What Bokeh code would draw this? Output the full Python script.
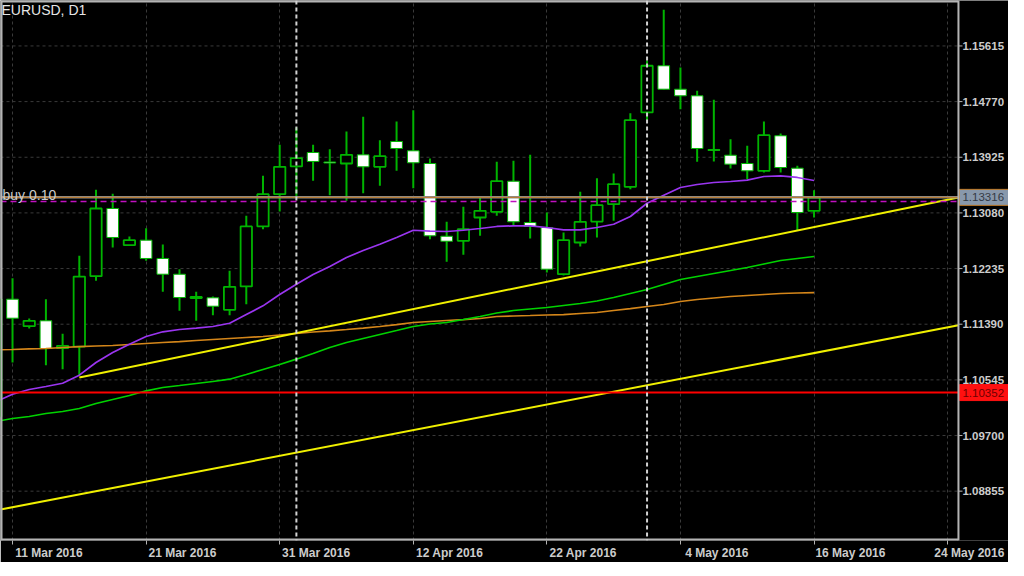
import numpy as np
from bokeh.plotting import figure
from bokeh.models import (Range1d, FixedTicker, LinearAxis, Grid, Label, Span, ColumnDataSource)
from bokeh.core.properties import value
from bokeh.embed import file_html
from bokeh.resources import INLINE

# ---------------- data ----------------
symbol_title = "EURUSD, D1"
bar_index = list(range(-1, 49))
opens = [1.09989, 1.11770, 1.11360, 1.11442, 1.11026, 1.11051, 1.12119, 1.13147, 1.12590, 1.12666,
         1.12388, 1.12149, 1.11788, 1.11791, 1.11609, 1.11963, 1.12874, 1.13364, 1.13785, 1.13997,
         1.13853, 1.13830, 1.13962, 1.13780, 1.14164, 1.14023, 1.13830, 1.12726, 1.12656, 1.13010,
         1.13097, 1.13561, 1.12934, 1.12858, 1.12149, 1.12631, 1.12949, 1.13212, 1.13476, 1.14605,
         1.15314, 1.14958, 1.14858, 1.14043, 1.13956, 1.13830, 1.13719, 1.14251, 1.13759, 1.13112]
highs = [1.11871, 1.12089, 1.11477, 1.11770, 1.11244, 1.12429, 1.13431, 1.13370, 1.12722, 1.12848,
         1.12600, 1.12225, 1.11882, 1.11811, 1.12201, 1.13036, 1.13643, 1.14114, 1.14377, 1.14114,
         1.14047, 1.14316, 1.14539, 1.14184, 1.14468, 1.14639, 1.13906, 1.12945, 1.13173, 1.13314,
         1.13856, 1.13871, 1.13962, 1.13086, 1.12782, 1.13400, 1.13607, 1.13678, 1.14594, 1.15394,
         1.16164, 1.15288, 1.14934, 1.14797, 1.14199, 1.14099, 1.14468, 1.14286, 1.13795, 1.13425]
lows = [1.09897, 1.10809, 1.11325, 1.10768, 1.10707, 1.10607, 1.12049, 1.12555, 1.12585, 1.12353,
        1.11882, 1.11594, 1.11442, 1.11527, 1.11527, 1.11694, 1.12833, 1.13101, 1.13314, 1.13567,
        1.13349, 1.13264, 1.13379, 1.13492, 1.13719, 1.13455, 1.12681, 1.12338, 1.12444, 1.12732,
        1.13036, 1.12893, 1.12691, 1.12175, 1.12130, 1.12570, 1.12707, 1.12960, 1.13440, 1.14488,
        1.14954, 1.14655, 1.13856, 1.13861, 1.13754, 1.13592, 1.13693, 1.13693, 1.12813, 1.13010]
closes = [1.11770, 1.11481, 1.11442, 1.11021, 1.11062, 1.12114, 1.13147, 1.12707, 1.12666, 1.12388,
          1.12149, 1.11795, 1.11803, 1.11663, 1.11958, 1.12874, 1.13364, 1.13780, 1.13911, 1.13861,
          1.13838, 1.13962, 1.13780, 1.13941, 1.14058, 1.13841, 1.12732, 1.12650, 1.12833, 1.13112,
          1.13561, 1.12945, 1.12874, 1.12225, 1.12666, 1.12945, 1.13197, 1.13516, 1.14488, 1.15314,
          1.14958, 1.14858, 1.14058, 1.14028, 1.13820, 1.13719, 1.14260, 1.13769, 1.13086, 1.13314]
ma_purple = [1.10212, 1.10327, 1.10399, 1.10444, 1.10494, 1.10616, 1.10809, 1.10960, 1.11086, 1.11203,
             1.11275, 1.11310, 1.11332, 1.11355, 1.11405, 1.11537, 1.11669, 1.11841, 1.11997, 1.12145,
             1.12266, 1.12403, 1.12509, 1.12605, 1.12707, 1.12817, 1.12802, 1.12798, 1.12817, 1.12843,
             1.12874, 1.12884, 1.12884, 1.12858, 1.12823, 1.12823, 1.12858, 1.12908, 1.13025, 1.13227,
             1.13349, 1.13466, 1.13511, 1.13542, 1.13557, 1.13577, 1.13633, 1.13643, 1.13618, 1.13572]
ma_green = [1.09913, 1.09958, 1.09989, 1.10034, 1.10065, 1.10110, 1.10186, 1.10247, 1.10307, 1.10379,
            1.10429, 1.10459, 1.10490, 1.10520, 1.10555, 1.10626, 1.10702, 1.10778, 1.10859, 1.10945,
            1.11036, 1.11112, 1.11173, 1.11234, 1.11294, 1.11355, 1.11393, 1.11416, 1.11461, 1.11507,
            1.11560, 1.11598, 1.11621, 1.11644, 1.11674, 1.11704, 1.11742, 1.11795, 1.11856, 1.11917,
            1.11993, 1.12069, 1.12114, 1.12160, 1.12205, 1.12251, 1.12304, 1.12357, 1.12388, 1.12418]
ma_orange = [1.11001, 1.11006, 1.11014, 1.11021, 1.11036, 1.11051, 1.11059, 1.11067, 1.11082, 1.11097,
             1.11112, 1.11127, 1.11143, 1.11158, 1.11173, 1.11188, 1.11203, 1.11226, 1.11249, 1.11272,
             1.11290, 1.11310, 1.11332, 1.11355, 1.11385, 1.11416, 1.11431, 1.11446, 1.11461, 1.11477,
             1.11507, 1.11515, 1.11522, 1.11530, 1.11537, 1.11553, 1.11568, 1.11598, 1.11628, 1.11659,
             1.11689, 1.11735, 1.11765, 1.11788, 1.11811, 1.11826, 1.11841, 1.11856, 1.11864, 1.11871]
price_ticks = [1.08855, 1.09700, 1.10545, 1.11390, 1.12235, 1.13080, 1.13925, 1.14770, 1.15615]
date_tick_index = [0, 8, 16, 24, 32, 40, 48, 56]
date_tick_labels = ["11 Mar 2016", "21 Mar 2016", "31 Mar 2016", "12 Apr 2016",
                    "22 Apr 2016", "4 May 2016", "16 May 2016", "24 May 2016"]
separator_index = [17, 38]
order_label = "buy 0.10"
order_price = 1.13316
order_stop_price = 1.13253
red_level = 1.10352
trend_upper_x = [4, 48]
trend_upper_y = [1.10581, 1.12866]
trend_lower_x = [0, 48]
trend_lower_y = [1.08611, 1.10951]

# ---------------- view ----------------
PX_PER_BAR = 16.698
FW, FH = 1008, 540
X0 = -0.72
XB = 56.65                      # right border of the chart area (price column starts here)
X1 = X0 + FW / PX_PER_BAR
Y0, Y1 = 1.08106, 1.16305
GREEN = "#00b400"
TXT = "#cccccc"
BORDER = "#b4b4b4"
FONT = "Liberation Sans"

p = figure(frame_width=FW, frame_height=FH, x_range=Range1d(X0, X1), y_range=Range1d(Y0, Y1),
           x_axis_type=None, y_axis_type=None, output_backend="svg", toolbar_location=None,
           min_border_left=0, min_border_top=0, min_border_right=0, min_border_bottom=0,
           background_fill_color="black", border_fill_color="black", outline_line_color=None)

# grids
xg = Grid(dimension=0, ticker=FixedTicker(ticks=date_tick_index), grid_line_color="#3a3a3a",
          grid_line_dash="3 3", grid_line_width=1)
p.add_layout(xg, "center")
p.segment(x0=[X0] * len(price_ticks), x1=[XB] * len(price_ticks), y0=price_ticks, y1=price_ticks,
          line_color="#3a3a3a", line_dash="3 3", line_width=1)

# bottom: tick marks
tick_ax = LinearAxis(ticker=FixedTicker(ticks=date_tick_index), axis_line_color=None,
                     major_tick_line_color=BORDER, major_tick_in=0, major_tick_out=4,
                     minor_tick_line_color=None, major_label_text_font_size="0px",
                     major_label_standoff=0, major_label_text_color=None)
p.add_layout(tick_ax, "below")
# bottom: date labels, set just right of their tick like the terminal (last one kept inside)
shift = 2.18
label_pos = [round(min(t + shift, X1 - 2.35), 2) for t in date_tick_index]
lbl_ax = LinearAxis(ticker=FixedTicker(ticks=label_pos),
                    major_label_overrides={t: s for t, s in zip(label_pos, date_tick_labels)},
                    axis_line_color=None, major_tick_line_color=None, major_tick_in=0,
                    major_tick_out=0, minor_tick_line_color=None, major_label_standoff=1,
                    major_label_text_color=TXT, major_label_text_font=FONT,
                    major_label_text_font_size="12px", major_label_text_font_style="bold")
p.add_layout(lbl_ax, "below")

# candles
o = np.array(opens); c = np.array(closes)
up = c >= o
src = ColumnDataSource(dict(x=bar_index, o=o, c=c, h=highs, l=lows,
                            top=np.maximum(o, c), bot=np.minimum(o, c)))
bull = ColumnDataSource({k: np.asarray(v)[up] for k, v in src.data.items()})
bear = ColumnDataSource({k: np.asarray(v)[~up] for k, v in src.data.items()})
p.segment(x0="x", y0="l", x1="x", y1="h", source=src, line_color=GREEN, line_width=2)
p.vbar(x="x", top="top", bottom="bot", width=0.68, source=bull, fill_color="black",
       line_color=GREEN, line_width=1.8)
p.vbar(x="x", top="top", bottom="bot", width=0.7, source=bear, fill_color="white",
       line_color=GREEN, line_width=1)

# moving averages
p.line(bar_index, ma_orange, line_color="#d4861a", line_width=1.7)
p.line(bar_index, ma_green, line_color="#00d200", line_width=1.7)
p.line(bar_index, ma_purple, line_color="#9a35f0", line_width=1.7)

# trend lines (rays up to the price column)
def extend(xs, ys, left):
    k = (ys[1] - ys[0]) / (xs[1] - xs[0])
    xa = X0 if left else xs[0]
    return [xa, XB], [ys[0] + k * (xa - xs[0]), ys[0] + k * (XB - xs[0])]

ux, uy = extend(trend_upper_x, trend_upper_y, False)
lx, ly = extend(trend_lower_x, trend_lower_y, True)
p.line(ux, uy, line_color="#f0f000", line_width=2)
p.line(lx, ly, line_color="#f0f000", line_width=2)

# horizontal levels
p.segment(x0=[X0], x1=[XB], y0=[order_price], y1=[order_price], line_color="#8c8c8c", line_width=2.5)
p.segment(x0=[X0], x1=[X1], y0=[order_price], y1=[order_price], line_color="#c07a28", line_width=1)
p.segment(x0=[X0], x1=[XB], y0=[order_stop_price], y1=[order_stop_price], line_color="#c010c0",
          line_width=1.5, line_dash="6 4")
p.segment(x0=[X0], x1=[XB], y0=[red_level], y1=[red_level], line_color="#ff0000", line_width=2)

# vertical separators
for s in separator_index:
    p.add_layout(Span(location=s, dimension="height", line_color="#d2d2d2", line_width=2,
                      line_dash="4 3"))

# chart border
p.multi_line(xs=[[X0, X0], [X0, XB], [X0, XB]], ys=[[Y0, Y1], [Y1, Y1], [Y0, Y0]],
             line_color=BORDER, line_width=4)
p.add_layout(Span(location=XB, dimension="height", line_color=BORDER, line_width=2))

# price column: tick marks and labels
p.ray(x=[XB] * len(price_ticks), y=price_ticks, length=4, length_units="screen", angle=0,
      line_color=BORDER, line_width=1)
p.text(x=[XB] * len(price_ticks), y=price_ticks, text=[f"{v:.5f}" for v in price_ticks],
       x_offset=4, text_baseline="middle", text_align="left", text_color=TXT,
       text_font=value(FONT), text_font_size="11.5px", text_font_style="bold")

# price boxes
box_x = (XB + X1) / 2 + 0.03
p.rect(x=[box_x], y=[order_price], width=X1 - XB - 0.06, height=16, height_units="screen",
       fill_color="#8898ab", line_color="#c07a28", line_width=1)
p.rect(x=[box_x], y=[red_level], width=X1 - XB - 0.06, height=16, height_units="screen",
       fill_color="#ff1010", line_color="#ff1010", line_width=1)
p.text(x=[XB, XB], y=[order_price, red_level], text=[f"{order_price:.5f}", f"{red_level:.5f}"],
       x_offset=4, text_baseline="middle", text_align="left",
       text_color=["#343a44", "#700000"], text_font=value(FONT), text_font_size="11.5px")

# texts
p.add_layout(Label(x=1, y=FH - 1, x_units="screen", y_units="screen", text=symbol_title,
                   text_color="#e6e6e6", text_font=FONT, text_font_size="14px",
                   text_baseline="top"))
p.add_layout(Label(x=2, y=order_price, x_units="screen", y_units="data", text=order_label,
                   text_color=TXT, text_font=FONT, text_font_size="14px",
                   text_baseline="middle", y_offset=2))

open("out.html", "w").write(file_html(p, INLINE))
